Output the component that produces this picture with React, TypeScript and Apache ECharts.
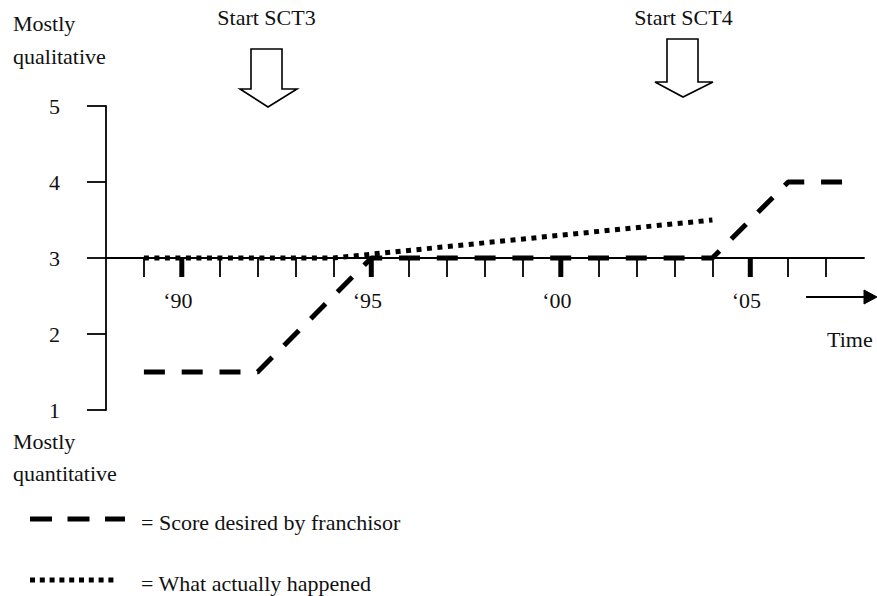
import React, { useEffect, useRef } from "react";
import * as echarts from "echarts";

// ---- data ----
const tickYears = [1989, 1990, 1991, 1992, 1993, 1994, 1995, 1996, 1997, 1998, 1999, 2000, 2001, 2002, 2003, 2004, 2005, 2006, 2007];
const majorYears = [1990, 1995, 2000, 2005];
const majorLabels = ["‘90", "‘95", "‘00", "‘05"];
const scoreTicks = [1, 2, 3, 4, 5];

const desiredYears = [1989, 1992, 1995, 2004, 2006, 2007.5];
const desiredScores = [1.5, 1.5, 3, 3, 4, 4];

const actualYears = [1989, 1994, 2004];
const actualScores = [3, 3, 3.5];

const FONT = "'Liberation Serif', 'Times New Roman', serif";
const FS = 22;
const INK = "#111";

export default function App() {
  const ref = useRef<HTMLDivElement>(null);

  useEffect(() => {
    if (!ref.current) return;
    const chart = echarts.init(ref.current, null, { renderer: "svg" });

    const txt = (text: string, x: number, y: number, align: string = "left") => ({
      type: "text",
      x,
      y,
      style: { text, font: `${FS}px ${FONT}`, fill: INK, align, verticalAlign: "middle" },
      silent: true,
    });

    const option: any = {
      animation: false,
      backgroundColor: "#fff",
      grid: { left: 106, right: 13, top: 106, bottom: 186, containLabel: false, outerBoundsMode: "none" },
      xAxis: {
        type: "value",
        min: 1988,
        max: 2008,
        position: "bottom",
        offset: -152,
        axisLine: { show: true, onZero: false, lineStyle: { color: "#000", width: 1.8 } },
        axisTick: { show: true, customValues: tickYears, length: 19, inside: false, lineStyle: { color: "#000", width: 1.8 } },
        axisLabel: {
          show: true,
          customValues: majorYears,
          formatter: (v: number) => majorLabels[majorYears.indexOf(v)] ?? "",
          margin: 42,
          verticalAlign: "middle",
          padding: [0, 8, 0, 0],
          fontFamily: FONT,
          fontSize: FS,
          color: INK,
        },
        splitLine: { show: false },
      },
      yAxis: {
        type: "value",
        min: 1,
        max: 5,
        interval: 1,
        axisLine: { show: true, lineStyle: { color: "#000", width: 1.8 } },
        axisTick: { show: true, length: 19, inside: false, lineStyle: { color: "#000", width: 1.8 } },
        axisLabel: {
          show: true,
          formatter: (v: number) => (scoreTicks.includes(v) ? String(v) : ""),
          margin: 46,
          verticalAlign: "middle",
          padding: [10, 0, 0, 0],
          fontFamily: FONT,
          fontSize: FS,
          color: INK,
        },
        splitLine: { show: false },
      },
      series: [
        {
          name: "major ticks",
          type: "custom",
          silent: true,
          z: 1,
          data: majorYears.map((y) => [y, 3]),
          renderItem: (params: any, api: any) => {
            const p = api.coord([api.value(0), api.value(1)]);
            return {
              type: "line",
              shape: { x1: p[0], y1: p[1], x2: p[0], y2: p[1] + 19 },
              style: { stroke: "#000", lineWidth: 5 },
            };
          },
        },
        {
          name: "What actually happened",
          type: "line",
          symbol: "none",
          z: 3,
          data: actualYears.map((y, i) => [y, actualScores[i]]),
          lineStyle: { color: "#000", width: 5, type: [5, 5.5], cap: "butt" },
        },
        {
          name: "Score desired by franchisor",
          type: "line",
          symbol: "none",
          z: 4,
          data: desiredYears.map((y, i) => [y, desiredScores[i]]),
          lineStyle: { color: "#000", width: 5, type: [21, 16.8], cap: "butt" },
        },
      ],
      graphic: [
        txt("Mostly", 13, 23),
        txt("qualitative", 13, 56),
        txt("Mostly", 13, 441),
        txt("quantitative", 13, 473),
        txt("Start SCT3", 266.5, 17.5, "center"),
        txt("Start SCT4", 683.5, 17, "center"),
        txt("Time", 827, 339),
        {
          type: "polygon",
          shape: { points: [[251, 49], [282, 49], [282, 89], [297, 89], [268, 107], [240, 89], [251, 89]] },
          style: { fill: "#fff", stroke: "#000", lineWidth: 1.6 },
        },
        {
          type: "polygon",
          shape: { points: [[667, 39], [698, 39], [698, 82], [713, 82], [683, 97], [655, 82], [667, 82]] },
          style: { fill: "#fff", stroke: "#000", lineWidth: 1.6 },
        },
        {
          type: "line",
          shape: { x1: 806, y1: 297, x2: 867, y2: 297 },
          style: { stroke: "#000", lineWidth: 2 },
        },
        {
          type: "polygon",
          shape: { points: [[864, 290], [877, 297], [864, 304]] },
          style: { fill: "#000", stroke: "#000", lineWidth: 1 },
        },
        {
          type: "line",
          shape: { x1: 30, y1: 519, x2: 125, y2: 519 },
          style: { stroke: "#000", lineWidth: 5, lineDash: [22, 15.5] },
        },
        txt("= Score desired by franchisor", 141, 522),
        {
          type: "line",
          shape: { x1: 30, y1: 580, x2: 118, y2: 580 },
          style: { stroke: "#000", lineWidth: 5, lineDash: [5, 4.8] },
        },
        txt("= What actually happened", 141, 583),
      ],
    };

    chart.setOption(option);
    return () => chart.dispose();
  }, []);

  return (
    <div
      ref={ref}
      style={{ position: "absolute", left: 0, top: 0, width: 877, height: 596, background: "#fff" }}
    />
  );
}
